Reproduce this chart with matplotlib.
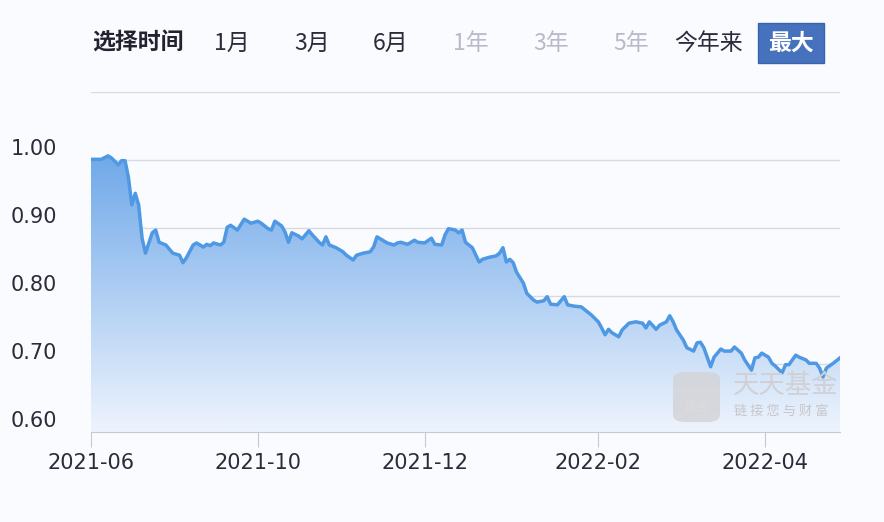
import matplotlib.pyplot as plt
import numpy as np
from matplotlib.patches import FancyBboxPatch
from matplotlib.colors import LinearSegmentedColormap

plt.rcParams['font.family'] = ['Noto Sans CJK SC', 'DejaVu Sans']

# trading-day index and unit value
day = [0, 3, 5, 6, 8, 9, 10, 11, 12, 13, 14, 15, 16, 17, 18, 19, 20, 22, 24, 26,
       27, 28, 30, 31, 33, 34, 35, 36, 38, 39, 40, 41, 43, 45, 47, 49, 50, 52, 53, 54,
       56, 57, 58, 59, 61, 62, 64, 65, 67, 68, 69, 70, 72, 74, 75, 77, 78, 80, 82, 83,
       84, 85, 87, 89, 90, 91, 93, 95, 96, 98, 100, 101, 103, 104, 105, 107, 108, 109, 110, 112,
       114, 115, 117, 119, 120, 121, 122, 123, 124, 125, 127, 128, 130, 131, 133, 134, 135, 137, 139, 140,
       142, 144, 146, 147, 149, 150, 151, 152, 153, 155, 156, 158, 160, 162, 163, 164, 166, 167, 169, 170,
       171, 172, 174, 175, 177, 178, 179, 180, 182, 183, 185, 186, 188, 189, 191, 192, 194, 195, 196, 197,
       199, 200, 201, 203, 204, 205, 207, 208, 210, 211, 213, 214, 215, 216, 218, 220]
nav = [1.001, 1.001, 1.006, 1.003, 0.993, 0.999, 0.999, 0.974, 0.934, 0.951, 0.934, 0.885, 0.863, 0.878, 0.893, 0.897, 0.879, 0.875, 0.863, 0.860,
       0.849, 0.856, 0.875, 0.878, 0.872, 0.876, 0.874, 0.878, 0.875, 0.879, 0.901, 0.904, 0.897, 0.913, 0.907, 0.910, 0.907, 0.899, 0.897, 0.910,
       0.903, 0.894, 0.879, 0.893, 0.888, 0.884, 0.896, 0.890, 0.879, 0.875, 0.887, 0.875, 0.871, 0.865, 0.860, 0.853, 0.860, 0.863, 0.865, 0.872,
       0.887, 0.884, 0.878, 0.875, 0.878, 0.879, 0.876, 0.882, 0.879, 0.878, 0.885, 0.876, 0.875, 0.890, 0.899, 0.897, 0.893, 0.897, 0.879, 0.871,
       0.850, 0.854, 0.857, 0.859, 0.863, 0.871, 0.850, 0.854, 0.849, 0.835, 0.819, 0.804, 0.794, 0.791, 0.793, 0.799, 0.788, 0.787, 0.799, 0.787,
       0.785, 0.784, 0.776, 0.772, 0.762, 0.753, 0.743, 0.751, 0.746, 0.740, 0.750, 0.760, 0.762, 0.760, 0.753, 0.762, 0.751, 0.757, 0.762, 0.771,
       0.762, 0.750, 0.735, 0.724, 0.719, 0.731, 0.732, 0.724, 0.696, 0.710, 0.722, 0.719, 0.719, 0.725, 0.716, 0.706, 0.691, 0.709, 0.710, 0.716,
       0.710, 0.701, 0.697, 0.687, 0.699, 0.699, 0.713, 0.710, 0.706, 0.701, 0.701, 0.694, 0.681, 0.694, 0.701, 0.709]

tick_pos = [0, 49, 98, 149, 198]
tick_labels = ['2021-06', '2021-10', '2021-12', '2022-02', '2022-04']
y_ticks = [0.60, 0.70, 0.80, 0.90, 1.00]
ranges = ['1月', '3月', '6月', '1年', '3年', '5年', '今年来', '最大']
range_x = [232, 312, 391, 471, 551, 631, 709, 791]
range_col = ['#2b2b3a', '#2b2b3a', '#2b2b3a', '#b9b9c8', '#b9b9c8', '#b9b9c8', '#2b2b3a', 'white']

fig = plt.figure(figsize=(8.84, 5.22), dpi=100, facecolor='#fafbfe')
ax = fig.add_axes([91 / 884, 1 - 432 / 522, 749 / 884, 340 / 522])
ax.set_facecolor('none')
ax.set_xlim(0, 220)
ax.set_ylim(0.60, 1.10)

# gradient fill under the line
fill = ax.fill_between(day, nav, 0.60, color='none', lw=0)
grad = np.linspace(0, 1, 256).reshape(-1, 1)
cmap = LinearSegmentedColormap.from_list('g', ['#eef4fd', '#6fa8e9'])
im = ax.imshow(grad, cmap=cmap, aspect='auto', origin='lower',
               extent=[0, 220, 0.60, 1.01], zorder=1)
im.set_clip_path(fill.get_paths()[0], transform=ax.transData)

ax.plot(day, nav, color='#4f98e4', lw=2.5, zorder=3, solid_joinstyle='round')

# grid
for v in y_ticks[1:] + [1.10]:
    ax.axhline(v, color='#d6dae4', lw=1, zorder=0)
for s in ['top', 'right', 'left']:
    ax.spines[s].set_visible(False)
ax.spines['bottom'].set_color('#c3c9d6')
ax.set_yticks([])
ax.set_xticks(tick_pos)
ax.set_xticklabels(tick_labels, fontsize=15, color='#2b2b3a', family='DejaVu Sans')
ax.tick_params(axis='x', length=11, color='#c3c9d6', pad=4)

for v in y_ticks:
    ax.text(-80 / 749, v + 0.001, '%.2f' % v, transform=ax.get_yaxis_transform(),
            ha='left', va='bottom', fontsize=15, color='#2b2b3a', family='DejaVu Sans')

# range selector header
fig.text(92 / 884, 1 - 43 / 522, '选择时间', fontsize=16.5, fontweight='bold',
         color='#222230', ha='left', va='center')
box = FancyBboxPatch((758 / 884, 1 - 63 / 522), 66 / 884, 40 / 522,
                     boxstyle='square,pad=0', transform=fig.transFigure,
                     facecolor='#4671bd', edgecolor='#3a62ad', lw=1)
fig.patches.append(box)
for lab, x, c in zip(ranges, range_x, range_col):
    fig.text(x / 884, 1 - 43 / 522, lab, fontsize=16.5, color=c, ha='center', va='center',
             fontweight='bold' if lab == '最大' else 'normal')

# watermark
logo = FancyBboxPatch((673 / 884, 1 - 422 / 522), 47 / 884, 50 / 522,
                      boxstyle='round,pad=0,rounding_size=0.014', transform=fig.transFigure,
                      facecolor='#d4d4d8', edgecolor='none', alpha=0.85, zorder=5)
fig.patches.append(logo)
fig.text(696 / 884, 1 - 408 / 522, '基金', fontsize=9, color='white', ha='center',
         va='center', fontweight='bold')
fig.text(733 / 884, 1 - 385 / 522, '天天基金', fontsize=19, color='#d0d0d5',
         ha='left', va='center')
fig.text(734 / 884, 1 - 411 / 522, '链 接 您 与 财 富', fontsize=9.5, color='#c6c6cc',
         ha='left', va='center')

fig.savefig('out.png', dpi=100, facecolor=fig.get_facecolor())
